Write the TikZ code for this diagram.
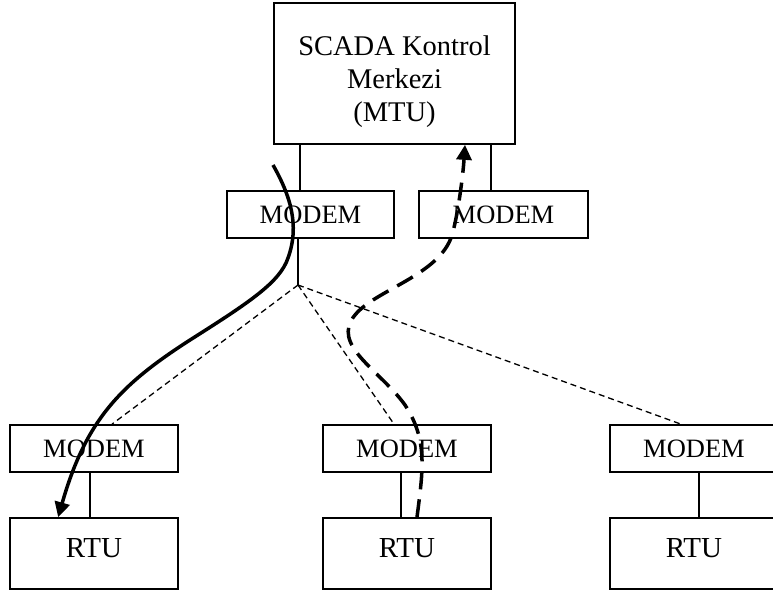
\documentclass[tikz,border=0pt]{standalone}
\usepackage{fontspec}
\setmainfont{Liberation Serif}
\usetikzlibrary{arrows.meta}

\tikzset{
  box/.style={draw=black, line width=1.7pt, fill=white, inner sep=0pt, minimum height=47pt},
  modembox/.style={box, minimum width=168pt, font=\fontsize{26.5}{30}\selectfont},
  rtubox/.style={box, minimum width=168pt, minimum height=71pt, text depth=12pt, font=\fontsize{29}{33}\selectfont},
  link/.style={draw=black, line width=1.6pt},
  radio/.style={draw=black, line width=1.3pt, dash pattern=on 6pt off 4pt},
  flowsolid/.style={draw=black, line width=3.5pt, -{Triangle[length=15pt, width=15pt]}},
  flowdash/.style={draw=black, line width=3.5pt, dash pattern=on 18pt off 10pt, -{Triangle[length=15pt, width=15pt]}}
}

\begin{document}
\begin{tikzpicture}[x=1pt, y=-1pt]
  \useasboundingbox (0,0) rectangle (773,594);

  % control centre
  \node[box, minimum width=241pt, minimum height=141pt] (mtu) at (394.5,73.5) {};
  \node[align=center, inner sep=0pt, font=\fontsize{28.5}{33}\selectfont] (mtutext) at (394.5,82) {SCADA Kontrol\\Merkezi\\(MTU)};

  % modems at the centre
  \node[modembox, minimum width=167pt] (modemA) at (310.5,214.5) {MODEM};
  \node[modembox, minimum width=169pt] (modemB) at (503.5,214.5) {MODEM};

  % remote stations
  \node[modembox] (modem1) at (94,448.5) {MODEM};
  \node[modembox] (modem2) at (407,448.5) {MODEM};
  \node[modembox] (modem3) at (694,448.5) {MODEM};
  \node[rtubox] (rtu1) at (94,553.5) {RTU};
  \node[rtubox] (rtu2) at (407,553.5) {RTU};
  \node[rtubox] (rtu3) at (694,553.5) {RTU};

  % wiring
  \coordinate (xa) at (300,0);
  \coordinate (xb) at (491,0);
  \coordinate (hub) at (298,285);
  \draw[link] (mtu.south -| xa) -- (modemA.north -| xa);
  \draw[link] (mtu.south -| xb) -- (modemB.north -| xb);
  \draw[link] (modemA.south -| hub) -- (hub);
  \draw[link] ([xshift=-4pt]modem1.south) -- ([xshift=-4pt]rtu1.north);
  \draw[link] ([xshift=-6pt]modem2.south) -- ([xshift=-6pt]rtu2.north);
  \draw[link] ([xshift=5pt]modem3.south) -- ([xshift=5pt]rtu3.north);

  % radio links
  \draw[radio] (hub) -- ([xshift=18pt]modem1.north);
  \draw[radio] (hub) -- ([xshift=-13pt]modem2.north);
  \draw[radio] (hub) -- ([xshift=-13pt]modem3.north);

  % polling request to the first station
  \coordinate (reqstart) at (273,165);
  \coordinate (reqend) at ([xshift=49pt]rtu1.north west);
  \draw[flowsolid] (reqstart)
    .. controls (290,195) and (300,225) .. (288,258)
    .. controls (280,282) and (250,302) .. (190,340)
    .. controls (120,385) and (86,420) .. (reqend);

  % reply from the second station
  \coordinate (repstart) at ([xshift=10pt]rtu2.north);
  \coordinate (repend) at ([xshift=70.5pt]mtu.south);
  \draw[flowdash] (repstart)
    .. controls (423,470) and (428,440) .. (405,405)
    .. controls (380,370) and (330,345) .. (355,315)
    .. controls (375,290) and (440,275) .. (452,235)
    .. controls (458,215) and (463,175) .. (repend);
\end{tikzpicture}
\end{document}
